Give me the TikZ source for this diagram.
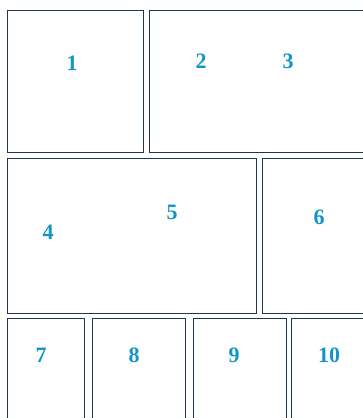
\documentclass[tikz,border=0pt]{standalone}
\usepackage{fontspec}
\setmainfont{Liberation Serif}
\usetikzlibrary{calc}

\definecolor{panelblue}{HTML}{1E3556}
\definecolor{numcyan}{HTML}{1296C6}

\tikzset{
  panel/.style={draw=panelblue, line width=0.9pt},
  num/.style={text=numcyan, font=\bfseries\fontsize{22}{22}\selectfont, inner sep=0pt}
}

\begin{document}
\begin{tikzpicture}[x=1pt, y=-1pt]
  % page frame (pixel grid of the reference)
  \useasboundingbox (0,0) rectangle (363,418);
  \clip (0,0) rectangle (363,418);
  % top row
  \draw[panel] (7,10)   rectangle (143,152);
  \draw[panel] (149,10) rectangle (380,152);
  % middle row
  \draw[panel] (7,158)   rectangle (256,313);
  \draw[panel] (262,158) rectangle (380,313);
  % bottom row
  \foreach \xa/\xb in {7/84, 92/185, 193/286, 291/380}
    \draw[panel] (\xa,318) rectangle (\xb,430);
  % panel numbers
  \node[num] (n1)  at (72,63)   {1};
  \node[num] (n2)  at (201,61)  {2};
  \node[num] (n3)  at (288,61)  {3};
  \node[num] (n4)  at (48,232)  {4};
  \node[num] (n5)  at (172,212) {5};
  \node[num] (n6)  at (319,217) {6};
  \node[num] (n7)  at (41,355)  {7};
  \node[num] (n8)  at (134,355) {8};
  \node[num] (n9)  at (234,355) {9};
  \node[num] (n10) at (329,355) {10};
\end{tikzpicture}
\end{document}
